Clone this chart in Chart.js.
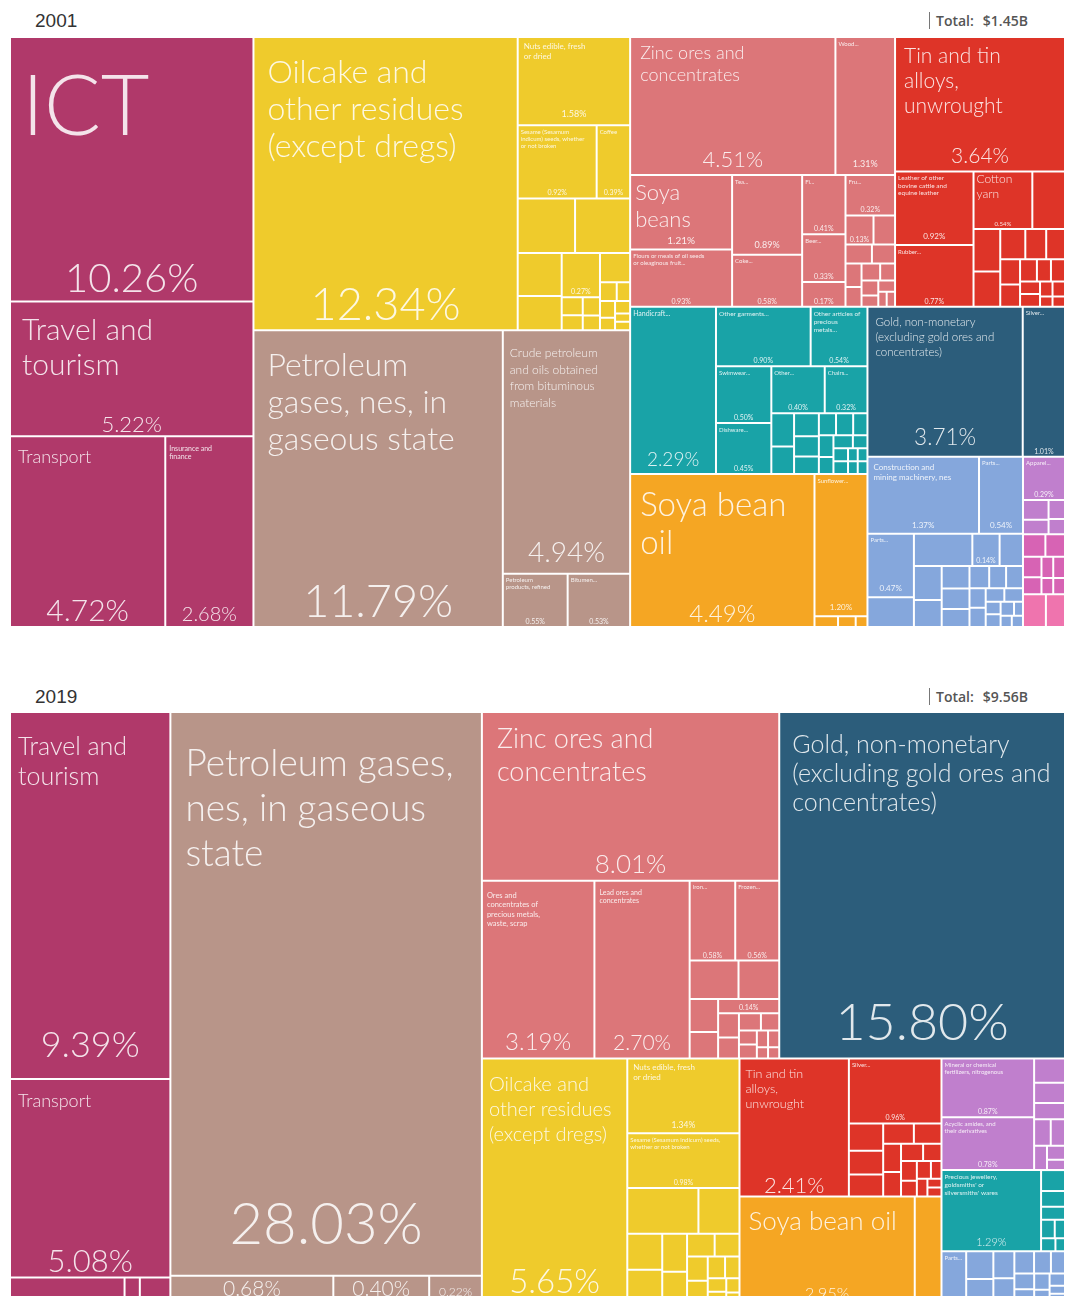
<!DOCTYPE html>
<html><head><meta charset="utf-8">
<script src="https://cdn.jsdelivr.net/npm/chart.js@4.4.1/dist/chart.umd.min.js"></script>
<style>
html,body{margin:0;padding:0;background:#fff;width:1065px;height:1296px;overflow:hidden;position:relative}
.year{position:absolute;left:35px;font:19px 'Liberation Sans',Arial,sans-serif;color:#333}
.total{position:absolute;left:929px;font:600 14px 'Open Sans',sans-serif;color:#555;border-left:1.5px solid #777;padding-left:6px;line-height:17px;white-space:nowrap}
.total span+span{margin-left:9px}
canvas{position:absolute;left:10px}
</style></head><body>
<div class="year" style="top:10px">2001</div>
<div class="total" style="top:12px"><span>Total:</span><span>$1.45B</span></div>
<canvas id="c2001" width="1055" height="590" style="top:37px"></canvas>
<div class="year" style="top:686px">2019</div>
<div class="total" style="top:688px"><span>Total:</span><span>$9.56B</span></div>
<canvas id="c2019" width="1055" height="590" style="top:712px"></canvas>
<script>
// ---------- helpers to describe the hierarchy ----------
const L = (name, v, pct) => ({ name, v, pct: !!pct });
const H = (...c) => ({ d: 'h', c });
const V = (...c) => ({ d: 'v', c });
const SQ = (...c) => ({ d: 'sq', c });
const G = (color, node) => { node.color = color; return node; };

const COL = {
  services: '#b0396a', yellow: '#efcb2c', brown: '#b89589', pink: '#dc7679',
  red: '#de3428', teal: '#19a3a7', gold: '#2c5d7b', orange: '#f5a623',
  lblue: '#85a7dc', purple: '#c07fcd', magenta: '#d763b4', hotpink: '#ef74ae'
};

// ---------- 2001 data ----------
const services2001 = G(COL.services, V(
  L('ICT', 10.26, 1),
  L('Travel and\ntourism', 5.22, 1),
  H(L('Transport', 4.72, 1), L('Insurance and\nfinance', 2.68, 1))
));
const foodstuffs2001 = G(COL.yellow, H(
  L('Oilcake and\nother residues\n(except dregs)', 12.34, 1),
  V(
    L('Nuts edible, fresh\nor dried', 1.58, 1),
    H(L('Sesame (Sesamum\nindicum) seeds, whether\nor not broken', 0.92, 1), L('Coffee', 0.39, 1)),
    H(L('', 0.50), L('', 0.48)),
    H(V(L('', 0.30), L('', 0.24)), V(L('', 0.27, 1), SQ(0.06, 0.05, 0.05, 0.04)), V(L('', 0.14), SQ(0.05, 0.04, 0.04, 0.03, 0.03, 0.02, 0.02)))
  )
));
const mineral2001 = G(COL.brown, H(
  L('Petroleum\ngases, nes, in\ngaseous state', 11.79, 1),
  V(L('Crude petroleum\nand oils obtained\nfrom bituminous\nmaterials', 4.94, 1),
    H(L('Petroleum\nproducts, refined', 0.55, 1), L('Bitumen...', 0.53, 1)))
));
const minerals2001 = G(COL.pink, V(
  H(L('Zinc ores and\nconcentrates', 4.51, 1), L('Wood...', 1.31, 1)),
  H(
    V(L('Soya\nbeans', 1.21, 1), L('Flours or meals of oil seeds\nor oleaginous fruit...', 0.93, 1)),
    V(L('Tea...', 0.89, 1), L('Coke...', 0.58, 1)),
    V(L('Fi...', 0.41, 1), L('Beer...', 0.33, 1), L('', 0.17, 1)),
    V(L('Fru...', 0.32, 1), SQ(L('', 0.13, 1), 0.10, 0.08, 0.07, 0.06, 0.05, 0.05, 0.04, 0.04, 0.03, 0.03, 0.02, 0.02))
  )
));
const metals2001 = G(COL.red, V(
  L('Tin and tin\nalloys,\nunwrought', 3.64, 1),
  H(
    V(L('Leather of other\nbovine cattle and\nequine leather', 0.92, 1), L('Rubber...', 0.77, 1)),
    V(H(L('Cotton\nyarn', 0.54, 1), L('', 0.30)), SQ(0.18, 0.15, 0.12, 0.10, 0.09, 0.08, 0.07, 0.06, 0.05, 0.05, 0.04, 0.04, 0.03, 0.03, 0.02, 0.02))
  )
));
const textiles2001 = G(COL.teal, H(
  L('Handicraft...', 2.29, 1),
  V(
    H(L('Other garments...', 0.90, 1), L('Other articles of\nprecious\nmetals...', 0.54, 1)),
    H(
      V(L('Swimwear...', 0.50, 1), L('Dishware...', 0.45, 1)),
      V(H(L('Other...', 0.40, 1), L('Chairs...', 0.32, 1)), SQ(0.12, 0.10, 0.09, 0.08, 0.07, 0.06, 0.06, 0.05, 0.05, 0.04, 0.04, 0.03, 0.03, 0.03, 0.02, 0.02, 0.02, 0.02))
    )
  )
));
const oils2001 = G(COL.orange, H(L('Soya bean\noil', 4.49, 1), V(L('Sunflower...', 1.20, 1), SQ(0.04, 0.03, 0.02))));
const gold2001 = G(COL.gold, H(L('Gold, non-monetary\n(excluding gold ores and\nconcentrates)', 3.71, 1), L('Silver...', 1.01, 1)));
const machinery2001 = G(COL.lblue, V(
  H(L('Construction and\nmining machinery, nes', 1.37, 1), L('Parts...', 0.54, 1)),
  H(V(L('Parts...', 0.47, 1), L('', 0.22)), V(H(L('', 0.30), L('', 0.14, 1), L('', 0.12)), SQ(0.15, 0.12, 0.10, 0.09, 0.08, 0.07, 0.06, 0.06, 0.05, 0.05, 0.04, 0.04, 0.03, 0.03, 0.03, 0.02, 0.02, 0.02)))
));
const strip2001 = V(
  G(COL.purple, V(L('Apparel...', 0.29, 1), SQ(0.08, 0.06, 0.05, 0.04))),
  G(COL.magenta, SQ(0.08, 0.07, 0.06, 0.05, 0.04, 0.04, 0.03, 0.03)),
  G(COL.hotpink, H(L('', 0.12), L('', 0.10)))
);
const root2001 = H(
  services2001,
  V(foodstuffs2001, mineral2001),
  V(H(minerals2001, metals2001), H(V(textiles2001, oils2001), V(gold2001, H(machinery2001, strip2001))))
);

// ---------- 2019 data ----------
const services2019 = G(COL.services, V(
  L('Travel and\ntourism', 9.39, 1),
  L('Transport', 5.08, 1),
  H(L('', 0.45), L('', 0.06), L('', 0.12))
));
const mineral2019 = G(COL.brown, V(
  L('Petroleum gases,\nnes, in gaseous\nstate', 28.03, 1),
  H(L('', 0.68, 1), L('', 0.40, 1), L('', 0.22, 1))
));
const minerals2019 = G(COL.pink, V(
  L('Zinc ores and\nconcentrates', 8.01, 1),
  H(
    L('Ores and\nconcentrates of\nprecious metals,\nwaste, scrap', 3.19, 1),
    L('Lead ores and\nconcentrates', 2.70, 1),
    V(H(L('Iron...', 0.58, 1), L('Frozen...', 0.56, 1)), H(L('', 0.30), L('', 0.25)),
      H(V(L('', 0.15), L('', 0.12)), V(L('', 0.14, 1), SQ(0.08, 0.07, 0.06, 0.05, 0.04, 0.04, 0.03, 0.03, 0.02, 0.02))))
  )
));
const gold2019 = G(COL.gold, L('Gold, non-monetary\n(excluding gold ores and\nconcentrates)', 15.80, 1));
const foodstuffs2019 = G(COL.yellow, H(
  L('Oilcake and\nother residues\n(except dregs)', 5.65, 1),
  V(L('Nuts edible, fresh\nor dried', 1.34, 1),
    L('Sesame (Sesamum indicum) seeds,\nwhether or not broken', 0.98, 1),
    H(L('', 0.52), L('', 0.30)),
    SQ(0.20, 0.18, 0.15, 0.12, 0.10, 0.09, 0.08, 0.07, 0.06, 0.05, 0.04, 0.03, 0.03, 0.02))
));
const metals2019 = G(COL.red, H(
  L('Tin and tin\nalloys,\nunwrought', 2.41, 1),
  V(L('Silver...', 0.96, 1), SQ(0.15, 0.13, 0.12, 0.10, 0.09, 0.08, 0.07, 0.06, 0.05, 0.05, 0.04, 0.04, 0.03, 0.03, 0.02, 0.02))
));
const oils2019 = G(COL.orange, H(L('Soya bean oil', 2.95, 1), L('', 0.45)));
const chem2019 = G(COL.purple, H(
  V(L('Mineral or chemical\nfertilizers, nitrogenous', 0.87, 1), L('Acyclic amides, and\ntheir derivatives', 0.78, 1)),
  SQ(0.12, 0.10, 0.08, 0.07, 0.06, 0.05, 0.04, 0.03)
));
const jewel2019 = G(COL.teal, H(L("Precious jewellery,\ngoldsmiths' or\nsilversmiths' wares", 1.29, 1), SQ(0.08, 0.06, 0.05, 0.04, 0.03, 0.03, 0.02)));
const machinery2019 = G(COL.lblue, H(L('Parts...', 0.20), SQ(0.12, 0.10, 0.09, 0.08, 0.07, 0.06, 0.05, 0.05, 0.04, 0.04, 0.03, 0.03, 0.02, 0.02)));
const root2019 = H(
  services2019,
  mineral2019,
  V(H(minerals2019, gold2019), H(foodstuffs2019, V(metals2019, oils2019), V(chem2019, jewel2019, machinery2019)))
);

// ---------- label styles (sizes in px) ----------
const styles2001 = {
  'ICT': { n: 84, t: 98, l: 12, p: 40, b: 10 },
  'Travel and tourism': { n: 30, t: 38, l: 12, lh: 35, p: 22, b: 4 },
  'Transport': { n: 18, t: 27, l: 8, p: 30, b: 6 },
  'Insurance and finance': { n: 7, t: 15, l: 4, lh: 8, p: 20, b: 6 },
  'Oilcake and other residues (except dregs)': { n: 32, t: 46, l: 14, lh: 37, p: 45, b: 10 },
  'Petroleum gases, nes, in gaseous state': { n: 32, t: 46, l: 14, lh: 37, p: 45, b: 10 },
  'Crude petroleum and oils obtained from bituminous materials': { n: 12, t: 27, l: 7, lh: 16.5, p: 28, b: 12 },
  'Nuts edible, fresh or dried': { n: 8, t: 12, l: 6, lh: 9.5, p: 9, b: 8 },
  'Zinc ores and concentrates': { n: 18, t: 22, l: 10, lh: 22, p: 22, b: 8 },
  'Wood...': { p: 9, b: 8 },
  'Soya beans': { n: 22, t: 25, l: 5, lh: 27, p: 10, b: 5 },
  'Tea...': { p: 9, b: 7 },
  'Tin and tin alloys, unwrought': { n: 21, t: 26, l: 9, lh: 25, p: 21, b: 8 },
  'Leather of other bovine cattle and equine leather': { n: 6.5, t: 9, lh: 7.5, p: 8, b: 6 },
  'Cotton yarn': { n: 12, t: 12, l: 3, lh: 15, p: 6, b: 3 },
  'Handicraft...': { n: 7, t: 9, p: 19, b: 8 },
  'Other garments...': { n: 6.5, p: 7, b: 3 },
  'Other articles of precious metals...': { n: 6.5, lh: 8, p: 7, b: 3 },
  'Soya bean oil': { n: 33, t: 42, l: 10, lh: 38, p: 24, b: 5 },
  'Sunflower...': { p: 8, b: 6 },
  'Gold, non-monetary (excluding gold ores and concentrates)': { n: 11.5, t: 19, l: 8, lh: 15, p: 22.5, b: 12 },
  'Construction and mining machinery, nes': { n: 8, t: 13, l: 6, lh: 10, p: 8, b: 6 },
  'Parts...': { p: 8, b: 6 }
};
const styles2019 = {
  'Travel and tourism': { n: 25, t: 43, l: 8, lh: 30, p: 36, b: 22 },
  'Transport': { n: 18, t: 28, l: 8, p: 31, b: 5 },
  'Petroleum gases, nes, in gaseous state': { n: 37, t: 64, l: 15, lh: 45, p: 58, b: 32 },
  '%0.68': { p: 21, b: 6 },
  '%0.40': { p: 21, b: 6 },
  '%0.22': { p: 12, b: 6 },
  'Zinc ores and concentrates': { n: 27, t: 36, l: 15, lh: 33, p: 26, b: 8 },
  'Ores and concentrates of precious metals, waste, scrap': { n: 7.5, t: 17, l: 5, lh: 9.5, p: 24, b: 8 },
  'Lead ores and concentrates': { n: 7, t: 14, l: 5, lh: 8.5, p: 21, b: 8 },
  'Gold, non-monetary (excluding gold ores and concentrates)': { n: 25, t: 41, l: 13, lh: 29, p: 52, b: 18 },
  'Oilcake and other residues (except dregs)': { n: 20, t: 33, l: 7, lh: 25, p: 33, b: 9 },
  'Nuts edible, fresh or dried': { n: 8, t: 12, l: 6, lh: 9.5, p: 8.5, b: 5 },
  'Tin and tin alloys, unwrought': { n: 12.5, t: 20, l: 6, lh: 15, p: 22, b: 4 },
  'Soya bean oil': { n: 26, t: 33, l: 9, p: 16, b: 3 },
  "Precious jewellery, goldsmiths' or silversmiths' wares": { n: 6.5, lh: 8, p: 11, b: 5 }
};

// ---------- layout from values ----------
function sumV(n) {
  if (typeof n === 'number') return n;
  if (!n.d) return n.v;
  if (n._s == null) n._s = n.c.reduce((a, c) => a + sumV(c), 0);
  return n._s;
}
function layout(node, x, y, w, h, color, out, A) {
  if (typeof node === 'number') node = { v: node, name: '', pct: false };
  if (node.color) color = node.color;
  if (!node.d) {
    out.push({ x0: x, x1: x + w, y0: y, y1: y + h, x: x + w / 2, y: y + h / 2, v: node.v, name: node.name, pct: node.pct, color });
    return;
  }
  const tot = sumV(node);
  if (node.d === 'h') {
    let cx = x;
    node.c.forEach(c => { const cw = w * sumV(c) / tot; layout(c, cx, y, cw, h, color, out, A); cx += cw; });
  } else if (node.d === 'v') {
    let cy = y;
    node.c.forEach(c => { const ch = h * sumV(c) / tot; layout(c, x, cy, w, ch, color, out, A); cy += ch; });
  } else {
    squarify(node.c, x, y, w, h, color, out, A);
  }
}
function squarify(children, x, y, w, h, color, out, A) {
  const items = children.slice().sort((a, b) => sumV(b) - sumV(a));
  const tot = items.reduce((a, c) => a + sumV(c), 0);
  let rx = x * A, ry = y, rw = w * A, rh = h;
  const scale = rw * rh / tot;
  const list = items.map(n => ({ node: n, a: sumV(n) * scale }));
  const worst = (r, side) => {
    const s = r.reduce((a, c) => a + c.a, 0);
    let mx = -Infinity, mn = Infinity;
    r.forEach(c => { mx = Math.max(mx, c.a); mn = Math.min(mn, c.a); });
    return Math.max(side * side * mx / (s * s), (s * s) / (side * side * mn));
  };
  const place = r => {
    const s = r.reduce((a, c) => a + c.a, 0);
    if (rw >= rh) {
      const sw = s / rh; let cy = ry;
      r.forEach(c => { const ch = c.a / sw; layout(c.node, rx / A, cy, sw / A, ch, color, out, A); cy += ch; });
      rx += sw; rw -= sw;
    } else {
      const sh = s / rw; let cx = rx;
      r.forEach(c => { const cw = c.a / sh; layout(c.node, cx / A, ry, cw / A, sh, color, out, A); cx += cw; });
      ry += sh; rh -= sh;
    }
  };
  let row = [], i = 0;
  while (i < list.length) {
    const side = Math.min(rw, rh);
    const c = list[i];
    if (row.length === 0 || worst(row.concat([c]), side) <= worst(row, side)) { row.push(c); i++; }
    else { place(row); row = []; }
  }
  if (row.length) place(row);
}

// ---------- Chart.js controller: one bar element per cell ----------
class TreemapCellsController extends Chart.DatasetController {
  update(mode) {
    const meta = this._cachedMeta;
    this.updateElements(meta.data, 0, meta.data.length, mode);
  }
  updateElements(els, start, count, mode) {
    const meta = this._cachedMeta;
    const xs = meta.xScale, ys = meta.yScale;
    const data = this.getDataset().data;
    for (let i = start; i < start + count; i++) {
      const d = data[i];
      const l = xs.getPixelForValue(d.x0), r = xs.getPixelForValue(d.x1);
      const t = ys.getPixelForValue(d.y0), b = ys.getPixelForValue(d.y1);
      this.updateElement(els[i], i, {
        x: (l + r) / 2, y: Math.min(t, b), base: Math.max(t, b),
        width: Math.abs(r - l), height: Math.abs(b - t),
        horizontal: false, borderSkipped: {}, inflateAmount: 0, enableBorderRadius: false,
        options: this.resolveDataElementOptions(i, mode)
      }, mode);
    }
  }
}
TreemapCellsController.id = 'treemapcells';
TreemapCellsController.defaults = { datasetElementType: false, dataElementType: 'bar' };
Chart.register(TreemapCellsController);

const TEXT = 'rgba(255,255,255,0.86)';
function wrapText(ctx, text, maxW) {
  if (text.indexOf('\n') >= 0) return text.split('\n');
  const out = []; let line = '';
  text.split(' ').forEach(w => {
    const test = line ? line + ' ' + w : w;
    if (line && ctx.measureText(test).width > maxW) { out.push(line); line = w; } else line = test;
  });
  out.push(line);
  return out;
}
function labelPlugin(styles) {
  return {
    id: 'cellLabels',
    afterDatasetsDraw(chart) {
      const ctx = chart.ctx;
      const meta = chart.getDatasetMeta(0);
      const data = chart.data.datasets[0].data;
      meta.data.forEach((el, i) => {
        const d = data[i];
        if (!d.name && !d.pct) return;
        const { x, y, base, width } = el.getProps(['x', 'y', 'base', 'width'], true);
        const left = x - width / 2, top = y, h = base - y, w = width;
        const key = d.name.replace(/\n/g, ' ');
        const st = Object.assign({ n: 6, l: 3, p: 7, b: 3 }, styles[key] || styles['%' + d.v.toFixed(2)] || {});
        if (st.t == null) st.t = st.n * 1.1 + 2;
        ctx.save();
        ctx.beginPath(); ctx.rect(left, top, w, h); ctx.clip();
        ctx.fillStyle = TEXT; ctx.textBaseline = 'alphabetic';
        if (d.name) {
          ctx.font = (st.n >= 11 ? '300 ' : '400 ') + st.n + 'px Lato, "Open Sans", sans-serif';
          ctx.textAlign = 'left';
          const lines = wrapText(ctx, d.name, w - 2 * st.l);
          const lh = st.lh || st.n * 1.18;
          lines.forEach((ln, k) => ctx.fillText(ln, left + st.l, top + st.t + k * lh));
        }
        if (d.pct) {
          ctx.font = (st.p >= 11 ? '300 ' : '400 ') + st.p + 'px Lato, "Open Sans", sans-serif';
          ctx.textAlign = 'center';
          ctx.fillText(d.v.toFixed(2) + '%', left + w / 2, base - st.b);
        }
        ctx.restore();
      });
    }
  };
}

function makeTreemap(id, root, styles) {
  const cv = document.getElementById(id);
  const A = cv.width / cv.height;
  const cells = [];
  layout(root, 0, 0, 1, 1, '#999', cells, A);
  return new Chart(cv, {
    type: 'treemapcells',
    data: {
      datasets: [{
        data: cells, parsing: false,
        backgroundColor: c => (c.raw ? c.raw.color : '#999'),
        borderColor: 'rgba(255,255,255,0.75)', borderWidth: 1
      }]
    },
    options: {
      responsive: false, animation: false, events: [], devicePixelRatio: 1,
      layout: { padding: 0 },
      scales: {
        x: { type: 'linear', min: 0, max: 1, display: false },
        y: { type: 'linear', min: 0, max: 1, reverse: true, display: false }
      },
      plugins: { legend: { display: false }, tooltip: { enabled: false } }
    },
    plugins: [labelPlugin(styles)]
  });
}
makeTreemap('c2001', root2001, styles2001);
makeTreemap('c2019', root2019, styles2019);
</script>
</body></html>
